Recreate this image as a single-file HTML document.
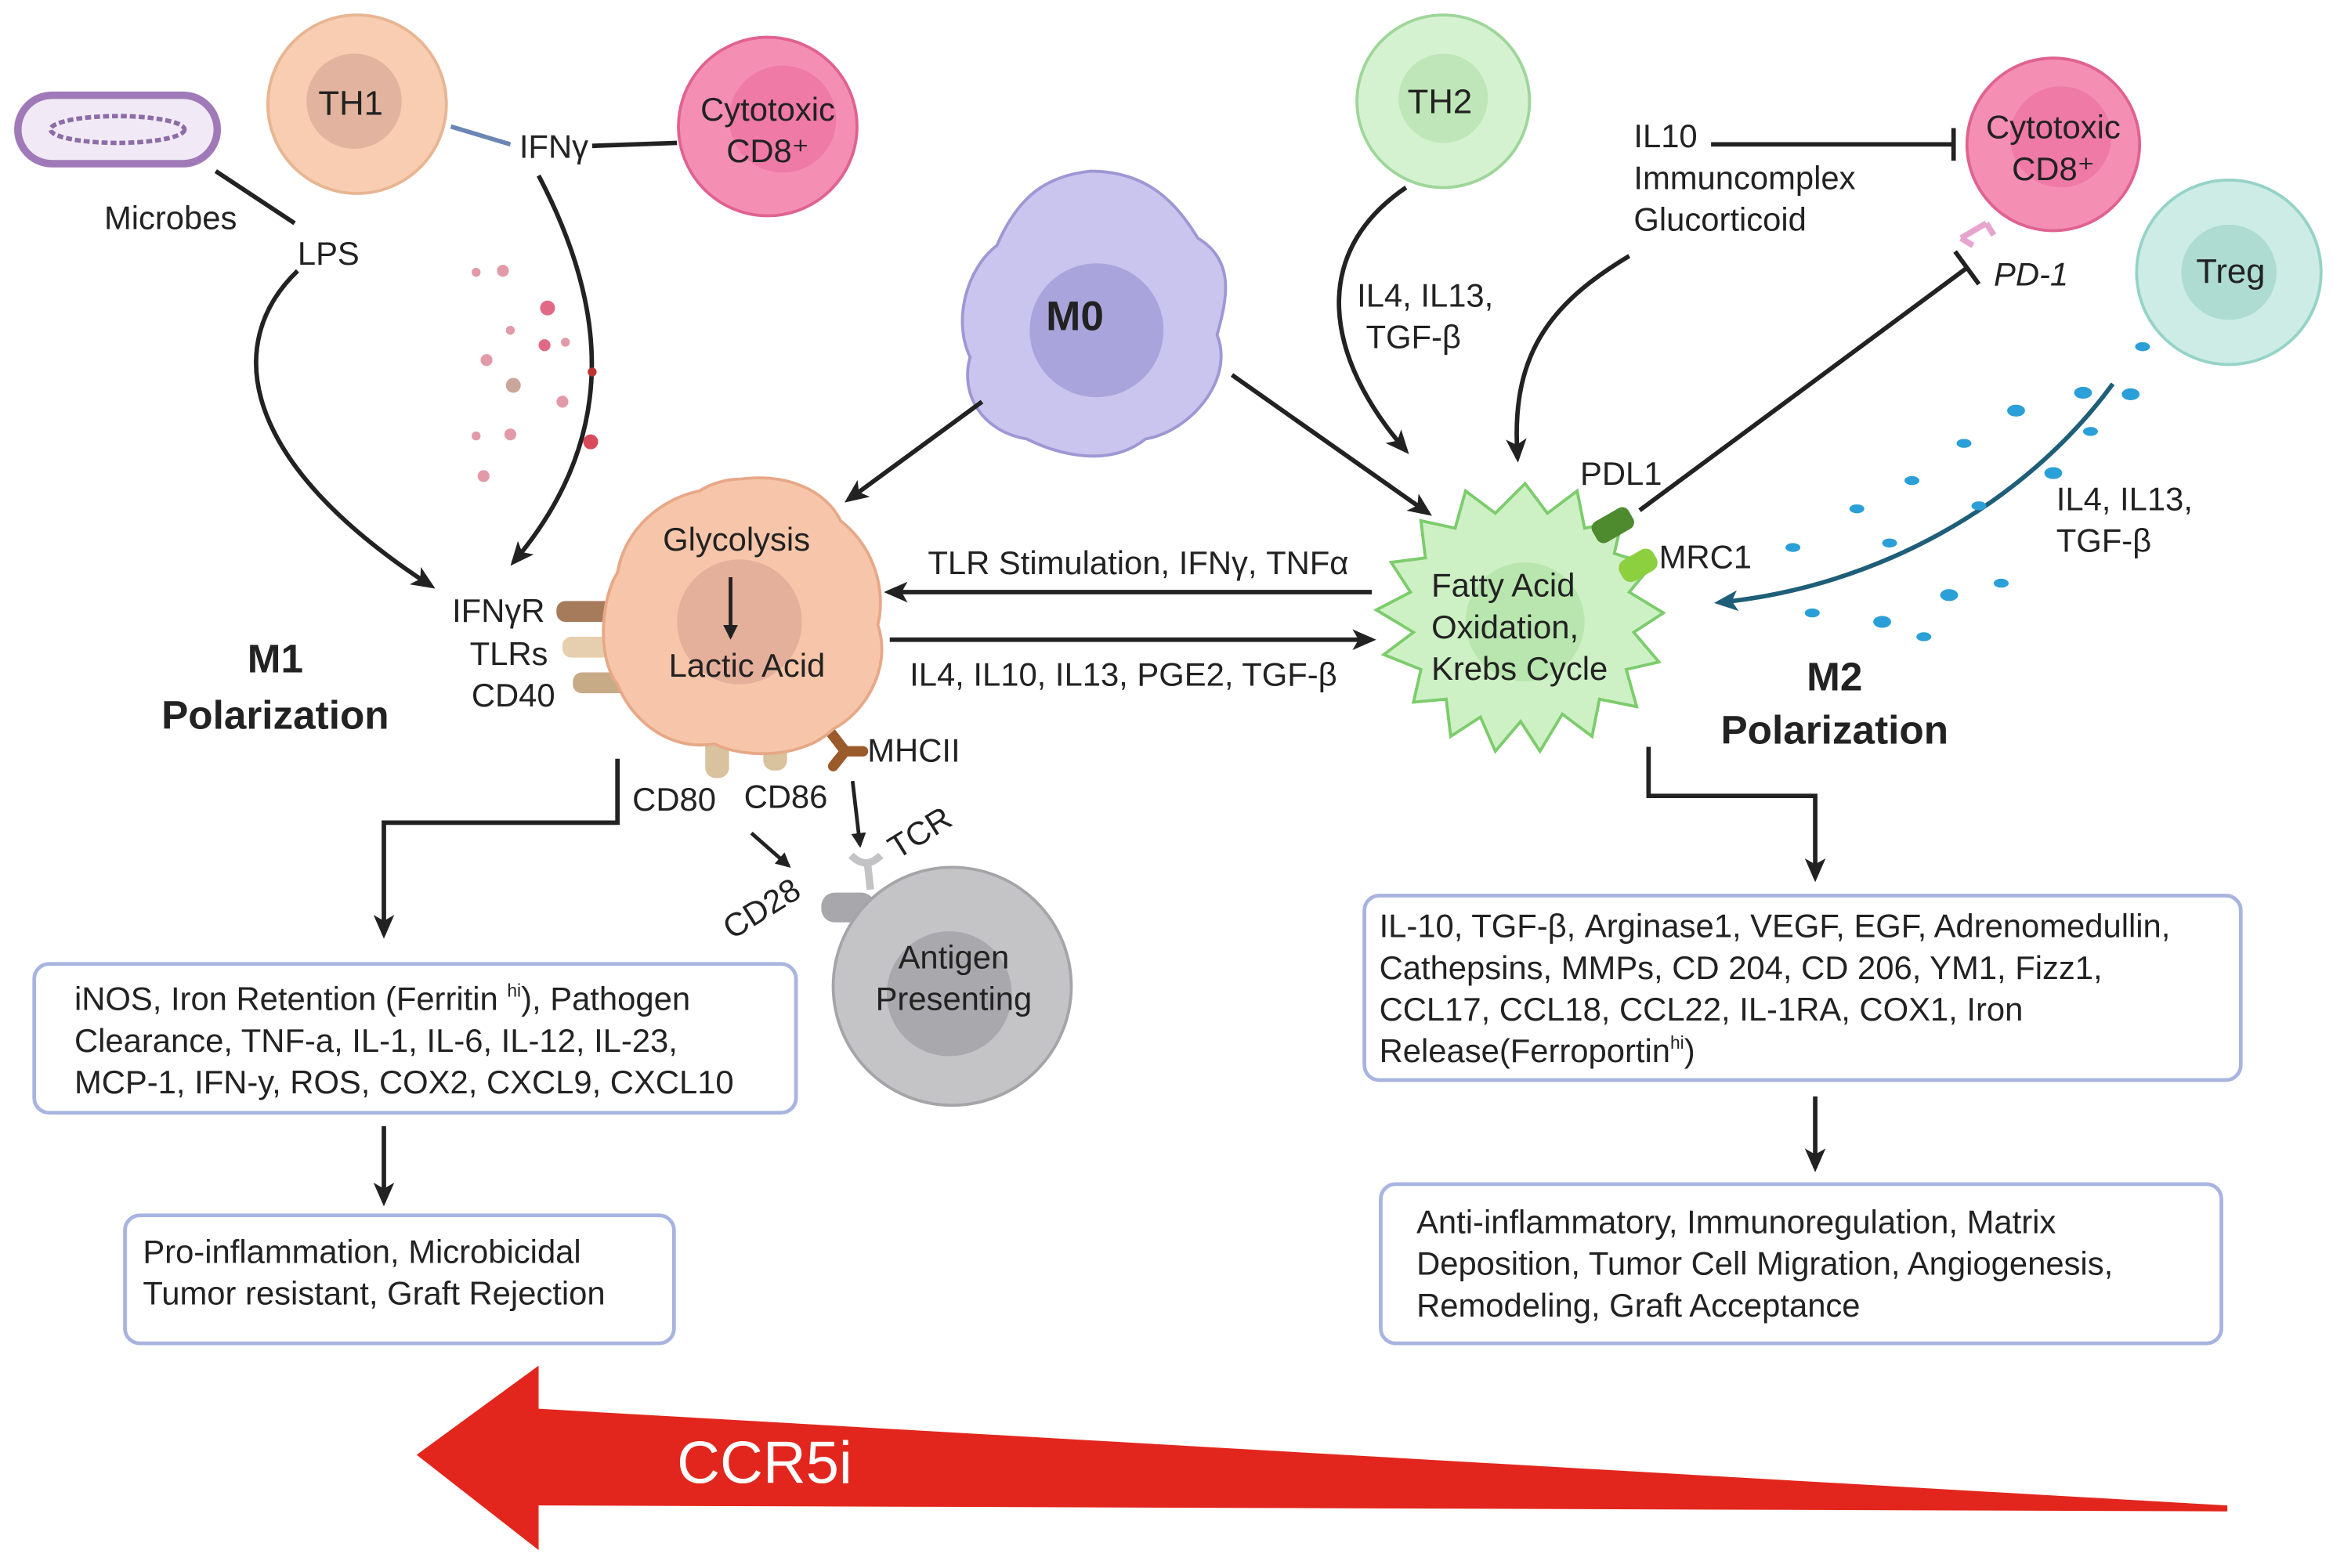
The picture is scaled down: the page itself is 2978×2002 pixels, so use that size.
<!DOCTYPE html>
<html><head><meta charset="utf-8"><style>
html,body{margin:0;padding:0;background:#fff;}
svg{display:block;}
text{font-family:"Liberation Sans",sans-serif;fill:#222;}
</style></head><body>
<svg width="2978" height="2002" viewBox="0 0 1568 1054" xmlns="http://www.w3.org/2000/svg">
<defs>
<marker id="a" markerWidth="10" markerHeight="10" refX="8" refY="5" orient="auto" markerUnits="userSpaceOnUse" viewBox="0 0 10 10"><path d="M0,0 L10,5 L0,10 z" fill="#222"/></marker>
<marker id="ab" markerWidth="16" markerHeight="16" refX="13" refY="8" orient="auto" markerUnits="userSpaceOnUse" viewBox="0 0 16 16"><path d="M0,1 L16,8 L0,15 L4,8 z" fill="#222"/></marker>
<marker id="at" markerWidth="16" markerHeight="16" refX="13" refY="8" orient="auto" markerUnits="userSpaceOnUse" viewBox="0 0 16 16"><path d="M0,1 L16,8 L0,15 L4,8 z" fill="#1e5e78"/></marker>
</defs>
<g font-size="22">
<!-- microbe -->
<rect x="12" y="64" width="134" height="46" rx="23" fill="#f1eaf6" stroke="#a07ab8" stroke-width="5"/>
<ellipse cx="79" cy="87" rx="45" ry="9" fill="none" stroke="#8d6ca8" stroke-width="3" stroke-dasharray="4 2"/>
<line x1="145" y1="115" x2="198" y2="150" stroke="#222" stroke-width="3"/>
<text x="70" y="154">Microbes</text>
<text x="200" y="178">LPS</text>
<path d="M200,182 C150,230 160,310 290,394" fill="none" stroke="#222" stroke-width="3" marker-end="url(#ab)"/>
<!-- TH1 -->
<circle cx="240" cy="70" r="60" fill="#f8cdb2" stroke="#e8b592" stroke-width="2"/>
<circle cx="238" cy="68" r="32" fill="#e2b39e"/>
<text x="214" y="77" font-size="23">TH1</text>
<line x1="303" y1="85" x2="343" y2="97" stroke="#6b86b5" stroke-width="3"/>
<text x="349" y="106">IFNγ</text>
<line x1="398" y1="98" x2="455" y2="96" stroke="#222" stroke-width="3"/>
<circle cx="516" cy="85" r="60" fill="#f48fb3" stroke="#e0628f" stroke-width="2"/>
<circle cx="526" cy="80" r="36" fill="#ee7aa5"/>
<text x="516" y="81" text-anchor="middle">Cytotoxic</text>
<text x="516" y="109" text-anchor="middle">CD8⁺</text>
<path d="M362,118 C405,200 420,290 345,378" fill="none" stroke="#222" stroke-width="3" marker-end="url(#ab)"/>
<g fill="#e39aa8">
<circle cx="320" cy="183" r="3"/><circle cx="338" cy="182" r="4"/><circle cx="368" cy="207" r="5" fill="#e06a86"/><circle cx="343" cy="222" r="3"/><circle cx="327" cy="242" r="4"/><circle cx="366" cy="232" r="4" fill="#e06a86"/><circle cx="345" cy="259" r="5" fill="#c9a59a"/><circle cx="380" cy="230" r="3"/><circle cx="320" cy="293" r="3"/><circle cx="343" cy="292" r="4"/><circle cx="397" cy="297" r="5" fill="#d94b5c"/><circle cx="325" cy="320" r="4"/><circle cx="378" cy="270" r="4"/><circle cx="398" cy="250" r="3" fill="#b33"/>
</g>
<!-- M0 -->
<path d="M733,115 C770,115 790,135 805,160 C830,175 825,200 818,225 C830,255 800,290 770,295 C745,315 710,305 690,295 C660,290 645,265 652,240 C640,215 650,180 670,165 C685,130 705,118 733,115 z" fill="#c9c5ee" stroke="#9d98d4" stroke-width="2"/>
<circle cx="737" cy="222" r="45" fill="#a9a5dc"/>
<text x="703" y="222" font-size="28" font-weight="bold">M0</text>
<line x1="660" y1="270" x2="570" y2="336" stroke="#222" stroke-width="3" marker-end="url(#ab)"/>
<line x1="828" y1="252" x2="960" y2="345" stroke="#222" stroke-width="3" marker-end="url(#ab)"/>
<!-- M1 -->
<rect x="374" y="404" width="40" height="14" rx="6" fill="#a67b5b"/>
<rect x="378" y="428" width="40" height="14" rx="6" fill="#e6cfae"/>
<rect x="385" y="452" width="40" height="14" rx="6" fill="#c7ab87"/>
<rect x="474" y="495" width="16" height="28" rx="7" fill="#d9c29e"/>
<rect x="513" y="490" width="16" height="28" rx="7" fill="#d9c29e"/>
<path d="M555,488 L568,505 L560,515 M568,505 L580,505" stroke="#9a5a2a" stroke-width="7" fill="none" stroke-linecap="round"/>
<path d="M498,322 C530,318 555,330 565,350 C590,370 595,400 590,420 C600,450 580,480 560,490 C540,510 500,510 480,500 C450,505 425,485 415,460 C400,440 405,400 415,385 C420,355 445,335 470,330 C478,325 488,322 498,322 z" fill="#f7c6aa" stroke="#e7a888" stroke-width="2"/>
<circle cx="497" cy="418" r="42" fill="#e5b09b"/>
<text x="495" y="370" text-anchor="middle">Glycolysis</text>
<line x1="491" y1="388" x2="491" y2="428" stroke="#222" stroke-width="2.5" marker-end="url(#a)"/>
<text x="502" y="455" text-anchor="middle">Lactic Acid</text>
<text x="335" y="418" text-anchor="middle">IFNγR</text>
<text x="342" y="447" text-anchor="middle">TLRs</text>
<text x="345" y="475" text-anchor="middle">CD40</text>
<text x="185" y="452" font-size="27" font-weight="bold" text-anchor="middle">M1</text>
<text x="185" y="490" font-size="27" font-weight="bold" text-anchor="middle">Polarization</text>
<text x="583" y="512">MHCII</text>
<text x="425" y="545">CD80</text>
<text x="500" y="543">CD86</text>
<!-- middle arrows -->
<text x="765" y="386" text-anchor="middle">TLR Stimulation, IFNγ, TNFα</text>
<line x1="922" y1="398" x2="597" y2="398" stroke="#222" stroke-width="3" marker-end="url(#ab)"/>
<line x1="598" y1="430" x2="922" y2="430" stroke="#222" stroke-width="3" marker-end="url(#ab)"/>
<text x="755" y="461" text-anchor="middle">IL4, IL10, IL13, PGE2, TGF-β</text>
<!-- M2 -->
<path d="M1025,325 L1040,345 L1060,330 L1065,355 L1090,350 L1085,372 L1110,380 L1095,398 L1118,412 L1098,425 L1115,445 L1093,450 L1100,475 L1075,470 L1070,495 L1050,480 L1035,505 L1022,485 L1005,505 L995,482 L975,495 L972,470 L950,472 L955,450 L930,440 L950,425 L925,410 L948,398 L935,378 L958,375 L955,350 L978,355 L985,330 L1005,345 z" fill="#cdf0c4" stroke="#7ccc6c" stroke-width="2"/>
<circle cx="1025" cy="418" r="40" fill="#b8e6ae"/>
<text x="962" y="401">Fatty Acid</text>
<text x="962" y="429">Oxidation,</text>
<text x="962" y="457">Krebs Cycle</text>
<rect x="1070" y="345" width="28" height="16" rx="5" fill="#4e8a2e" transform="rotate(-30 1084 353)"/>
<rect x="1088" y="372" width="26" height="16" rx="6" fill="#8ccf3f" transform="rotate(-30 1101 380)"/>
<text x="1062" y="326">PDL1</text>
<text x="1115" y="382">MRC1</text>
<line x1="1102" y1="343" x2="1322" y2="180" stroke="#222" stroke-width="3"/>
<line x1="1314" y1="169" x2="1330" y2="191" stroke="#222" stroke-width="3"/>
<text x="1340" y="192" font-style="italic">PD-1</text>
<path d="M1318,160 L1335,150 M1326,165 L1318,160 M1335,150 L1340,158" stroke="#e6a5cf" stroke-width="4" fill="none"/>
<!-- TH2 -->
<circle cx="970" cy="68" r="58" fill="#d5f2d0" stroke="#9ed69a" stroke-width="2"/>
<circle cx="970" cy="66" r="30" fill="#bfe6b8"/>
<text x="946" y="76" font-size="23">TH2</text>
<path d="M945,126 C880,170 890,240 945,303" fill="none" stroke="#222" stroke-width="3" marker-end="url(#ab)"/>
<text x="912" y="206">IL4, IL13,</text>
<text x="918" y="234">TGF-β</text>
<text x="1098" y="99">IL10</text>
<text x="1098" y="127">Immuncomplex</text>
<text x="1098" y="155">Glucorticoid</text>
<line x1="1150" y1="97" x2="1313" y2="97" stroke="#222" stroke-width="3"/>
<line x1="1313" y1="86" x2="1313" y2="108" stroke="#222" stroke-width="3"/>
<path d="M1095,172 C1040,205 1015,240 1020,308" fill="none" stroke="#222" stroke-width="3" marker-end="url(#ab)"/>
<circle cx="1380" cy="97" r="58" fill="#f48fb3" stroke="#e0628f" stroke-width="2"/>
<circle cx="1385" cy="92" r="34" fill="#ee7aa5"/>
<text x="1380" y="93" text-anchor="middle">Cytotoxic</text>
<text x="1380" y="121" text-anchor="middle">CD8⁺</text>
<circle cx="1498" cy="183" r="62" fill="#cdece6" stroke="#95d3c7" stroke-width="2"/>
<circle cx="1498" cy="183" r="32" fill="#aedcd2"/>
<text x="1476" y="190" font-size="23">Treg</text>
<path d="M1420,258 C1360,340 1260,395 1155,405" fill="none" stroke="#1e5e78" stroke-width="3" marker-end="url(#at)"/>
<g fill="#2a9fd8">
<ellipse cx="1440" cy="233" rx="5" ry="3"/><ellipse cx="1400" cy="264" rx="6" ry="4"/><ellipse cx="1432" cy="265" rx="6" ry="4"/><ellipse cx="1355" cy="276" rx="6" ry="4"/><ellipse cx="1320" cy="298" rx="5" ry="3"/><ellipse cx="1405" cy="290" rx="5" ry="3"/><ellipse cx="1380" cy="318" rx="6" ry="4"/><ellipse cx="1285" cy="323" rx="5" ry="3"/><ellipse cx="1248" cy="342" rx="5" ry="3"/><ellipse cx="1330" cy="340" rx="5" ry="3"/><ellipse cx="1205" cy="368" rx="5" ry="3"/><ellipse cx="1270" cy="365" rx="5" ry="3"/><ellipse cx="1345" cy="392" rx="5" ry="3"/><ellipse cx="1310" cy="400" rx="6" ry="4"/><ellipse cx="1218" cy="412" rx="5" ry="3"/><ellipse cx="1265" cy="418" rx="6" ry="4"/><ellipse cx="1293" cy="428" rx="5" ry="3"/>
</g>
<text x="1382" y="343">IL4, IL13,</text>
<text x="1382" y="371">TGF-β</text>
<text x="1233" y="464" font-size="27" font-weight="bold" text-anchor="middle">M2</text>
<text x="1233" y="500" font-size="27" font-weight="bold" text-anchor="middle">Polarization</text>
<!-- Antigen presenting -->
<line x1="505" y1="560" x2="530" y2="582" stroke="#222" stroke-width="2.5" marker-end="url(#a)"/>
<line x1="573" y1="525" x2="578" y2="568" stroke="#222" stroke-width="2.5" marker-end="url(#a)"/>
<rect x="552" y="600" width="36" height="20" rx="9" fill="#a8a7ab"/>
<line x1="585" y1="598" x2="583" y2="580" stroke="#c3c2c5" stroke-width="5"/>
<path d="M572,575 Q582,585 592,575" stroke="#c3c2c5" stroke-width="5" fill="none"/>
<circle cx="640" cy="663" r="80" fill="#c4c3c6" stroke="#a5a4a8" stroke-width="2"/>
<circle cx="638" cy="668" r="42" fill="#a9a8ac"/>
<text x="641" y="651" text-anchor="middle">Antigen</text>
<text x="641" y="679" text-anchor="middle">Presenting</text>
<text x="492" y="632" transform="rotate(-32 492 632)">CD28</text>
<text x="603" y="578" transform="rotate(-32 603 578)">TCR</text>
<!-- M1 boxes -->
<path d="M415,510 L415,553 L258,553 L258,628" fill="none" stroke="#222" stroke-width="3" marker-end="url(#ab)"/>
<rect x="23" y="648" width="512" height="100" rx="10" fill="#fff" stroke="#a8b4e0" stroke-width="2.5"/>
<text x="50" y="679">iNOS, Iron Retention (Ferritin <tspan font-size="12" dy="-9">hi</tspan><tspan dy="9">), Pathogen</tspan></text>
<text x="50" y="707">Clearance, TNF-a, IL-1, IL-6, IL-12, IL-23,</text>
<text x="50" y="735">MCP-1, IFN-y, ROS, COX2, CXCL9, CXCL10</text>
<line x1="258" y1="757" x2="258" y2="808" stroke="#222" stroke-width="3" marker-end="url(#ab)"/>
<rect x="84" y="817" width="369" height="86" rx="10" fill="#fff" stroke="#a8b4e0" stroke-width="2.5"/>
<text x="96" y="849">Pro-inflammation, Microbicidal</text>
<text x="96" y="877">Tumor resistant, Graft Rejection</text>
<!-- M2 boxes -->
<path d="M1108,502 L1108,535 L1220,535 L1220,590" fill="none" stroke="#222" stroke-width="3" marker-end="url(#ab)"/>
<rect x="917" y="602" width="589" height="124" rx="10" fill="#fff" stroke="#a8b4e0" stroke-width="2.5"/>
<text x="927" y="630">IL-10, TGF-β, Arginase1, VEGF, EGF, Adrenomedullin,</text>
<text x="927" y="658">Cathepsins, MMPs, CD 204, CD 206, YM1, Fizz1,</text>
<text x="927" y="686">CCL17, CCL18, CCL22, IL-1RA, COX1, Iron</text>
<text x="927" y="714">Release(Ferroportin<tspan font-size="12" dy="-9">hi</tspan><tspan dy="9">)</tspan></text>
<line x1="1220" y1="737" x2="1220" y2="785" stroke="#222" stroke-width="3" marker-end="url(#ab)"/>
<rect x="928" y="796" width="565" height="107" rx="10" fill="#fff" stroke="#a8b4e0" stroke-width="2.5"/>
<text x="952" y="829">Anti-inflammatory, Immunoregulation, Matrix</text>
<text x="952" y="857">Deposition, Tumor Cell Migration, Angiogenesis,</text>
<text x="952" y="885">Remodeling, Graft Acceptance</text>
<!-- CCR5i -->
<polygon points="280,978 362,918 362,947 1497,1012 1497,1016 362,1012 362,1042" fill="#e3261d"/>
<text x="455" y="997" font-size="40" style="fill:#fff">CCR5i</text>
</g>
</svg>
</body></html>
